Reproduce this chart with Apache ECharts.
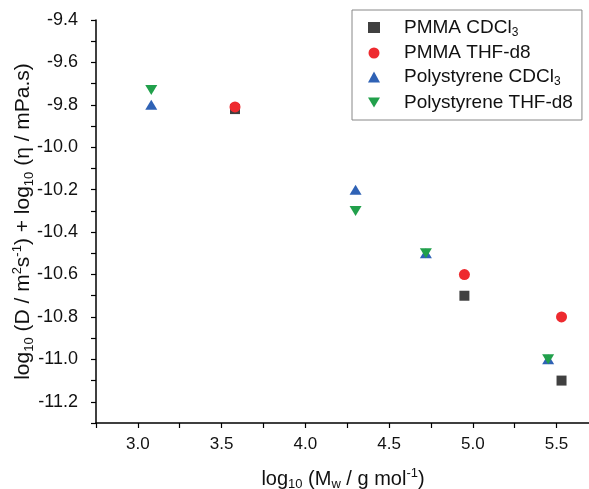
<!DOCTYPE html>
<html>
<head>
<meta charset="utf-8">
<script src="https://cdn.jsdelivr.net/npm/echarts@6/dist/echarts.min.js"></script>
<style>
  html, body { margin: 0; padding: 0; background: #fff; }
  #chart { width: 589px; height: 489px; }
</style>
</head>
<body>
<div id="chart"></div>
<script>
// log10(Mw) positions
const xPS = [3.08, 4.30, 4.72, 5.45]
const xPMMA = [3.58, 4.95, 5.53]

// log10(D) + log10(eta)
const pmmaCDCl3 = [-9.82, -10.70, -11.10]
const pmmaTHF = [-9.81, -10.60, -10.80]
const psCDCl3 = [-9.80, -10.20, -10.50, -11.00]
const psTHF = [-9.73, -10.30, -10.50, -11.00]

const seriesNames = ['PMMA CDCl3', 'PMMA THF-d8', 'Polystyrene CDCl3', 'Polystyrene THF-d8']
const legendLabels = {
  'PMMA CDCl3': '{gap|}{n|PMMA CDCl}{sub|3}',
  'PMMA THF-d8': '{gap|}{n|PMMA THF-d8}',
  'Polystyrene CDCl3': '{gap|}{n|Polystyrene CDCl}{sub|3}',
  'Polystyrene THF-d8': '{gap|}{n|Polystyrene THF-d8}',
}

const FONT = '"Liberation Sans", Arial, sans-serif'
const DOWN_TRIANGLE = 'path://M0,0 L12,0 L6,10 Z'

const zip = (xs, ys) => xs.map((x, i) => [x, ys[i]])

function richStyles(size, lh) {
  const small = Math.round(size * 0.64)
  return {
    gap: { width: 19 },
    n: { fontSize: size, fontFamily: FONT, color: '#111', lineHeight: lh },
    sub: { fontSize: small, fontFamily: FONT, color: '#111', lineHeight: 12, verticalAlign: 'bottom' },
    sup: { fontSize: small, fontFamily: FONT, color: '#111', lineHeight: 12, verticalAlign: 'top' },
  }
}

const chart = echarts.init(document.getElementById('chart'), null, { renderer: 'canvas' })

chart.setOption({
  animation: false,
  backgroundColor: '#fff',
  grid: { left: 96, top: 20, width: 494, height: 403, containLabel: false, outerBoundsMode: 'none' },
  legend: {
    left: 352,
    top: 10,
    orient: 'vertical',
    data: [
      { name: seriesNames[0] },
      { name: seriesNames[1] },
      { name: seriesNames[2] },
      { name: seriesNames[3], icon: DOWN_TRIANGLE },
    ],
    itemWidth: 12,
    itemHeight: 11,
    itemGap: 5,
    padding: [8, 9, 8, 16],
    borderColor: '#888',
    borderWidth: 1,
    formatter: name => legendLabels[name],
    textStyle: { rich: richStyles(19, 22) },
  },
  xAxis: {
    type: 'value',
    min: 2.75,
    max: 5.7,
    interval: 0.25,
    name: '{n|log}{sub|10}{n| (M}{sub|w}{n| / g mol}{sup|-1}{n|)}',
    nameLocation: 'middle',
    nameMoveOverlap: false,
    nameGap: 44,
    nameTextStyle: { rich: richStyles(20, 24) },
    axisLine: { lineStyle: { color: '#000', width: 1.5 } },
    axisTick: { inside: false, length: 5, lineStyle: { color: '#000', width: 1.2 } },
    axisLabel: {
      fontSize: 17,
      fontFamily: FONT,
      color: '#111',
      margin: 13,
      formatter: v => (Math.abs(v * 2 - Math.round(v * 2)) < 1e-6 ? v.toFixed(1) : ''),
    },
    splitLine: { show: false },
  },
  yAxis: {
    type: 'value',
    min: -11.3,
    max: -9.4,
    interval: 0.1,
    name: '{n|log}{sub|10}{n| (D / m}{sup|2}{n|s}{sup|-1}{n|) + log}{sub|10}{n| (η / mPa.s)}',
    nameLocation: 'middle',
    nameMoveOverlap: false,
    nameRotate: 90,
    nameGap: 60,
    nameTextStyle: { rich: richStyles(21, 25) },
    axisLine: { lineStyle: { color: '#000', width: 1.5 } },
    axisTick: { inside: false, length: 5, lineStyle: { color: '#000', width: 1.2 } },
    axisLabel: {
      fontSize: 18,
      fontFamily: FONT,
      color: '#111',
      margin: 18,
      formatter: v => (Math.round(v * 10) % 2 === 0 ? v.toFixed(1) : ''),
    },
    splitLine: { show: false },
  },
  series: [
    {
      name: seriesNames[0],
      type: 'scatter',
      symbol: 'rect',
      symbolSize: 10,
      itemStyle: { color: '#404040', opacity: 1 },
      data: zip(xPMMA, pmmaCDCl3),
    },
    {
      name: seriesNames[1],
      type: 'scatter',
      symbol: 'circle',
      symbolSize: 11,
      itemStyle: { color: '#ee2a2f', opacity: 1 },
      data: zip(xPMMA, pmmaTHF),
    },
    {
      name: seriesNames[2],
      type: 'scatter',
      symbol: 'triangle',
      symbolSize: [12, 10],
      itemStyle: { color: '#2f62b5', opacity: 1 },
      data: zip(xPS, psCDCl3),
    },
    {
      name: seriesNames[3],
      type: 'scatter',
      symbol: DOWN_TRIANGLE,
      symbolSize: [12, 10],
      itemStyle: { color: '#21a04b', opacity: 1 },
      data: zip(xPS, psTHF),
    },
  ],
})

window.addEventListener('resize', () => chart.resize())
</script>
</body>
</html>
